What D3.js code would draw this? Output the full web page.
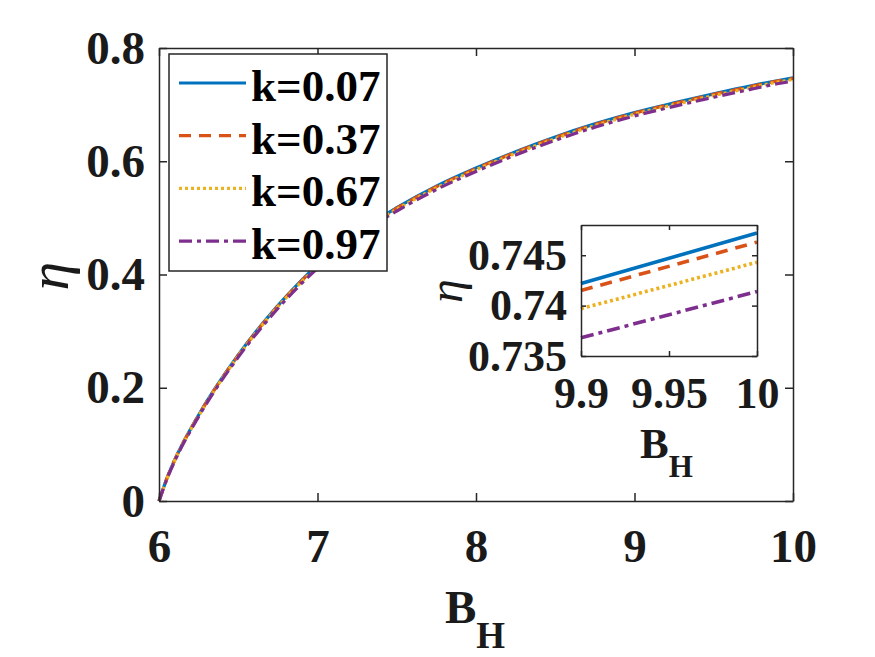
<!DOCTYPE html>
<html>
<head>
<meta charset="utf-8">
<script src="https://cdn.jsdelivr.net/npm/d3@7"></script>
<style>
  body { margin: 0; background: #fff; }
  text { font-family: "Liberation Serif", "Times New Roman", serif; fill: #1a1a1a; }
  .tick text { font-weight: bold; }
  .axis path, .axis line { stroke: #262626; stroke-width: 1.5; }
</style>
</head>
<body>
<div id="chart"></div>
<script>
// B_H sample points
const bH = [6, 6.05, 6.1, 6.25, 6.5, 6.75, 7, 7.25, 7.5, 7.75, 8, 8.25, 8.5, 8.75, 9, 9.25, 9.5, 9.75, 9.9, 10];

// efficiency eta for each k
const etaK007 = [0, 0.040, 0.073, 0.152, 0.258, 0.345, 0.417, 0.474, 0.518, 0.556, 0.588, 0.617, 0.643, 0.666, 0.686, 0.703, 0.719, 0.734, 0.7422, 0.7472];
const etaK037 = [0, 0.040, 0.073, 0.151, 0.257, 0.344, 0.416, 0.473, 0.517, 0.555, 0.587, 0.616, 0.642, 0.665, 0.685, 0.702, 0.718, 0.733, 0.7415, 0.7463];
const etaK067 = [0, 0.039, 0.072, 0.150, 0.256, 0.343, 0.414, 0.471, 0.515, 0.553, 0.585, 0.614, 0.640, 0.663, 0.683, 0.700, 0.716, 0.731, 0.7397, 0.7443];
const etaK097 = [0, 0.039, 0.071, 0.149, 0.254, 0.340, 0.411, 0.468, 0.512, 0.550, 0.582, 0.611, 0.637, 0.660, 0.680, 0.697, 0.713, 0.728, 0.7368, 0.7414];

const seriesNames = ["k=0.07", "k=0.37", "k=0.67", "k=0.97"];
const seriesColors = ["#0072BD", "#D95319", "#EDB120", "#7E2F8E"];
const seriesDash = [null, "12,8", "3,3", "13,5,4,5"];

const xTicks = [6, 7, 8, 9, 10];
const yTicks = [0, 0.2, 0.4, 0.6, 0.8];
const insetXTicks = [9.9, 9.95, 10];
const insetYTicks = [0.735, 0.74, 0.745];

const series = [etaK007, etaK037, etaK067, etaK097].map((vals, i) => ({
    name: seriesNames[i],
    color: seriesColors[i],
    dash: seriesDash[i],
    values: vals.map((v, j) => ({ b: bH[j], eta: v }))
}));

const width = 875, height = 657;
const svg = d3.select("#chart").append("svg")
    .attr("width", width)
    .attr("height", height);

// draws a boxed axes with inward ticks on all four sides
function drawBox(g, x, y, opts) {
    const [x0, x1] = x.range();
    const [y0, y1] = y.range(); // y0 bottom, y1 top

    g.append("g").attr("class", "axis")
        .attr("transform", `translate(0,${y0})`)
        .call(d3.axisBottom(x).tickValues(opts.xTicks).tickSizeInner(-opts.tick).tickSizeOuter(0)
            .tickPadding(opts.xPad).tickFormat(opts.xFmt))
        .selectAll("text").style("font-size", opts.font + "px");

    g.append("g").attr("class", "axis")
        .attr("transform", `translate(0,${y1})`)
        .call(d3.axisTop(x).tickValues(opts.xTicks).tickSizeInner(-opts.tick).tickSizeOuter(0).tickFormat(""));

    g.append("g").attr("class", "axis")
        .attr("transform", `translate(${x0},0)`)
        .call(d3.axisLeft(y).tickValues(opts.yTicks).tickSizeInner(-opts.tick).tickSizeOuter(0)
            .tickPadding(opts.yPad).tickFormat(opts.yFmt))
        .selectAll("text").style("font-size", opts.font + "px");

    g.append("g").attr("class", "axis")
        .attr("transform", `translate(${x1},0)`)
        .call(d3.axisRight(y).tickValues(opts.yTicks).tickSizeInner(-opts.tick).tickSizeOuter(0).tickFormat(""));
}

// ---- main axes ----
const x = d3.scaleLinear().domain([6, 10]).range([159, 793]);
const y = d3.scaleLinear().domain([0, 0.8]).range([501, 48]);

const line = d3.line()
    .x(d => x(d.b))
    .y(d => y(d.eta))
    .curve(d3.curveMonotoneX);

const main = svg.append("g");

main.selectAll(".series")
    .data(series)
    .join("path")
    .attr("class", "series")
    .attr("d", d => line(d.values))
    .attr("fill", "none")
    .attr("stroke", d => d.color)
    .attr("stroke-width", 3.2)
    .attr("stroke-dasharray", d => d.dash);

drawBox(main, x, y, {
    xTicks: xTicks, yTicks: yTicks, tick: 8, font: 47,
    xPad: 28, yPad: 14,
    xFmt: d3.format("d"), yFmt: d => d === 0 ? "0" : d3.format(".1f")(d)
});

// axis labels
const xLab = svg.append("text")
    .attr("x", 445)
    .attr("y", 623)
    .style("font-weight", "bold")
    .style("font-size", "47px");
xLab.append("tspan").text("B");
xLab.append("tspan").attr("dy", 25).style("font-size", "37px").text("H");

svg.append("text")
    .attr("transform", "translate(68,276) rotate(-90)")
    .attr("text-anchor", "middle")
    .style("font-style", "italic")
    .style("font-size", "58px")
    .text("η");

// ---- legend ----
const legend = svg.append("g").attr("class", "legend");
legend.append("rect")
    .attr("x", 169).attr("y", 54)
    .attr("width", 218).attr("height", 217)
    .attr("fill", "#fff")
    .attr("stroke", "#262626")
    .attr("stroke-width", 1.5);

const rows = legend.selectAll(".row")
    .data(series)
    .join("g")
    .attr("class", "row")
    .attr("transform", (d, i) => `translate(0,${83 + i * 52.7})`);

rows.append("line")
    .attr("x1", 179).attr("x2", 246)
    .attr("stroke", d => d.color)
    .attr("stroke-width", 3.2)
    .attr("stroke-dasharray", d => d.dash);

rows.append("text")
    .attr("x", 251)
    .attr("y", 18)
    .style("font-weight", "bold")
    .style("font-size", "45px")
    .style("fill", "#000")
    .text(d => d.name);

// ---- inset ----
const ix = d3.scaleLinear().domain([9.9, 10]).range([581, 757]);
const iy = d3.scaleLinear().domain([0.735, 0.748]).range([356, 225]);

const inset = svg.append("g");
inset.append("rect")
    .attr("x", 581).attr("y", 225)
    .attr("width", 176).attr("height", 131)
    .attr("fill", "#fff");

const insetLine = d3.line()
    .x(d => ix(d.b))
    .y(d => iy(d.eta));

inset.selectAll(".iseries")
    .data(series)
    .join("path")
    .attr("class", "iseries")
    .attr("d", d => insetLine(d.values.filter(v => v.b >= 9.9)))
    .attr("fill", "none")
    .attr("stroke", d => d.color)
    .attr("stroke-width", 3.6)
    .attr("stroke-dasharray", d => d.dash);

drawBox(inset, ix, iy, {
    xTicks: insetXTicks, yTicks: insetYTicks, tick: 5, font: 44,
    xPad: 21, yPad: 14,
    xFmt: d => d3.format("")(+d.toFixed(2)), yFmt: d => d3.format("")(+d.toFixed(3))
});

const ixLab = svg.append("text")
    .attr("x", 640)
    .attr("y", 458)
    .style("font-weight", "bold")
    .style("font-size", "43px");
ixLab.append("tspan").text("B");
ixLab.append("tspan").attr("dy", 19).style("font-size", "31px").text("H");

svg.append("text")
    .attr("transform", "translate(462,291) rotate(-90)")
    .attr("text-anchor", "middle")
    .style("font-style", "italic")
    .style("font-size", "48px")
    .text("η");
</script>
</body>
</html>
